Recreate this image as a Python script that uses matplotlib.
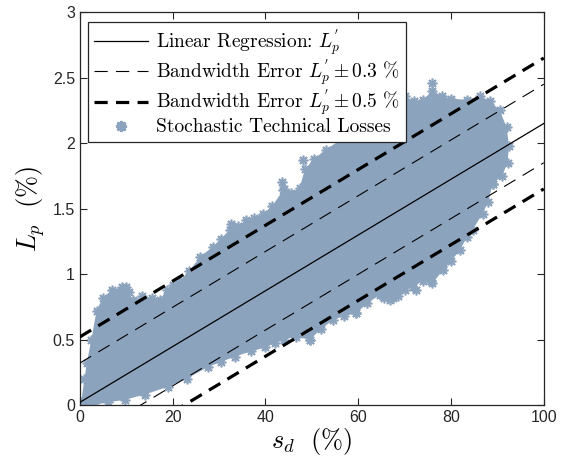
import numpy as np
import matplotlib.pyplot as plt

plt.rcParams['font.family'] = ['Liberation Sans', 'DejaVu Sans']
plt.rcParams['mathtext.fontset'] = 'cm'
plt.rcParams['lines.scale_dashes'] = False

# regression L_p' = a + b * s_d
reg_a = 0.02
reg_b = 0.0213
band_small = 0.3
band_large = 0.5
s_line = [0.0, 100.0]

# outline of the scatter cloud (s_d %, L_p %)
upper_s = [0.3, 1.0, 1.5, 2.5, 3.6, 5.0, 7.0, 9.0, 10.5, 11.5, 13.5, 15.5, 17.2, 18.7,
           20.0, 21.6, 23.5, 25.9, 28.7, 30.5, 32.3, 34.0, 35.9, 37.5, 39.5, 41.5, 43.8,
           45.5, 47.4, 48.5, 50.5, 53.0, 56.0, 58.0, 60.3, 62.5, 64.7, 67.5, 70.0, 72.0,
           74.0, 76.0, 78.0, 80.0, 83.4, 86.2, 88.5, 90.5, 92.0, 92.5, 92.2, 91.0, 89.0]
upper_l = [0.02, 0.20, 0.32, 0.50, 0.72, 0.82, 0.88, 0.90, 0.86, 0.80, 0.83, 0.82, 0.80, 0.88,
           0.92, 0.95, 1.02, 1.13, 1.21, 1.27, 1.34, 1.37, 1.41, 1.43, 1.46, 1.52, 1.64,
           1.62, 1.66, 1.80, 1.88, 1.95, 2.02, 2.05, 2.07, 2.15, 2.25, 2.33, 2.36, 2.32,
           2.33, 2.40, 2.36, 2.34, 2.33, 2.36, 2.32, 2.25, 2.12, 1.98, 1.85, 1.75, 1.69]
lower_s = [0.3, 3.0, 6.0, 9.7, 14.0, 19.0, 23.0, 27.6, 30.5, 33.4, 37.0, 40.0, 42.0, 44.0,
           46.5, 49.6, 52.0, 54.6, 57.0, 59.6, 62.0, 64.7, 66.8, 68.5, 70.0, 71.8, 74.0,
           76.0, 78.3, 80.0, 81.9, 83.4, 84.7, 86.8, 88.0, 89.0]
lower_l = [0.0, 0.0, 0.02, 0.04, 0.08, 0.14, 0.20, 0.29, 0.33, 0.37, 0.41, 0.44, 0.47, 0.50,
           0.52, 0.50, 0.58, 0.65, 0.68, 0.70, 0.78, 0.84, 0.80, 0.83, 0.88, 0.90, 0.95,
           0.93, 1.03, 1.10, 1.18, 1.28, 1.34, 1.46, 1.55, 1.69]
# isolated points outside the dense cloud
extra_s = [49.6, 59.6, 65.5, 67.5, 72.5, 75.8, 78.0, 76.0, 48.1, 43.5, 32.5, 10.0, 44.0]
extra_l = [0.50, 0.70, 0.82, 0.82, 0.88, 0.95, 1.06, 2.46, 1.87, 1.70, 1.38, 0.90, 1.65]

cloud_color = '#8ca3bd'

fig = plt.figure(figsize=(5.7, 4.68), dpi=100)
ax = fig.add_axes([0.140, 0.1346, 0.814, 0.8394])

poly_s = upper_s + lower_s[::-1]
poly_l = upper_l + lower_l[::-1]
ax.fill(poly_s, poly_l, color=cloud_color, lw=0, zorder=1)
ax.plot(upper_s + lower_s + extra_s, upper_l + lower_l + extra_l, ls='none',
        marker=(8, 2, 0), ms=7, mew=1.2, color=cloud_color, zorder=1)
# legend proxy for the scatter
ax.plot([], [], ls='none', marker=(8, 2, 0), ms=8, mew=2, color=cloud_color,
        label='Stochastic Technical Losses')

s = np.array(s_line)
reg = reg_a + reg_b * s
ax.plot(s, reg, color='black', lw=0.9, zorder=3,
        label="Linear Regression: $L_p^{'}$")
ax.plot(s, reg + band_small, color='black', lw=0.8, dashes=(9.5, 6), zorder=3,
        label="Bandwidth Error $L_p^{'} \\pm 0.3$ %")
ax.plot(s, reg - band_small, color='black', lw=0.8, dashes=(9.5, 6), zorder=3)
ax.plot(s, reg + band_large, color='black', lw=2.3, dashes=(9.5, 6), zorder=3,
        label="Bandwidth Error $L_p^{'} \\pm 0.5$ %")
ax.plot(s, reg - band_large, color='black', lw=2.3, dashes=(9.5, 6), zorder=3)

ax.set_xlim(0, 100)
ax.set_ylim(0, 3)
ax.set_xticks([0, 20, 40, 60, 80, 100])
ax.set_yticks([0, 0.5, 1, 1.5, 2, 2.5, 3])
ax.set_yticklabels(['0', '0.5', '1', '1.5', '2', '2.5', '3'])
ax.tick_params(direction='in', top=True, right=True, length=5, width=0.8,
               labelsize=11.5, colors='#262626')
for sp in ax.spines.values():
    sp.set_color('#262626')
    sp.set_linewidth(0.9)

ax.set_xlabel('$s_d\\ \\ (\\%)$', fontsize=19, labelpad=1)
ax.set_ylabel('$L_p\\ \\ (\\%)$', fontsize=19, labelpad=4)

h, l = ax.get_legend_handles_labels()
order = [1, 2, 3, 0]
leg = ax.legend([h[i] for i in order], [l[i] for i in order], loc='upper left',
                bbox_to_anchor=(0.017, 0.975), borderaxespad=0,
                prop={'family': ['cmr10', 'DejaVu Serif'], 'size': 14},
                frameon=True, fancybox=False, edgecolor='#262626', framealpha=1,
                handlelength=2.8, handletextpad=0.4, borderpad=0.3, labelspacing=0.0)
leg.get_frame().set_linewidth(0.9)
leg.set_zorder(5)

fig.savefig('out.png', dpi=100)
